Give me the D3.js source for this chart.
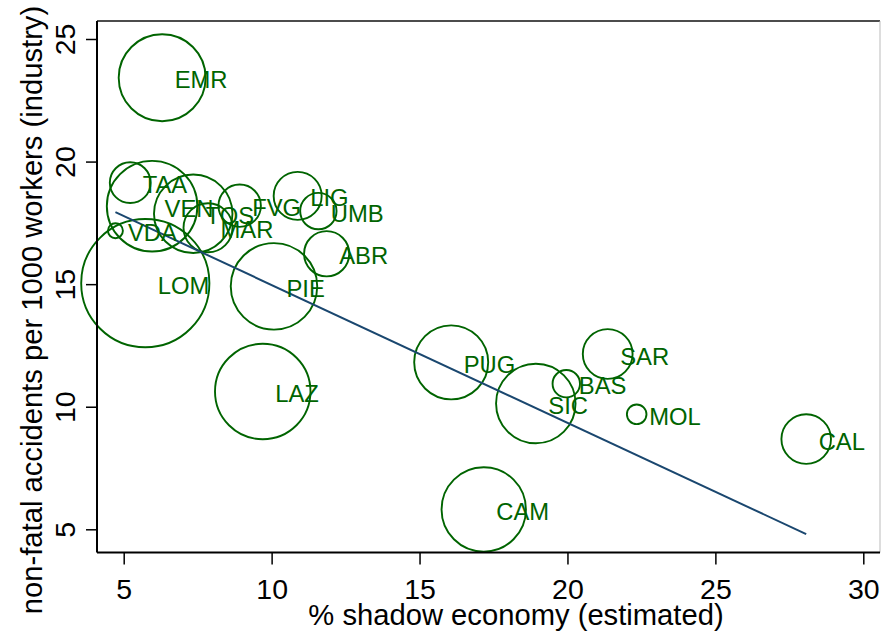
<!DOCTYPE html>
<html>
<head>
<meta charset="utf-8">
<script src="https://cdn.jsdelivr.net/npm/d3@7"></script>
<style>
  html, body { margin: 0; padding: 0; background: #ffffff; }
  svg { display: block; font-family: "Liberation Sans", Arial, Helvetica, sans-serif; }
</style>
</head>
<body>
<svg id="chart" width="881" height="633"></svg>
<script>
// ---- data ----
const regions = ["EMR","TAA","VEN","TOS","MAR","FVG","LIG","UMB","ABR","PIE","LOM","VDA","LAZ","PUG","SIC","BAS","SAR","MOL","CAL","CAM"];
const shadowEconomy = [6.30, 5.22, 5.96, 7.35, 7.85, 8.92, 10.88, 11.58, 11.86, 10.08, 5.73, 4.72, 9.70, 16.07, 18.93, 19.96, 21.36, 22.34, 28.07, 17.17];
const accidents = [23.42, 19.14, 18.18, 17.87, 17.30, 18.20, 18.60, 17.98, 16.24, 14.91, 15.04, 17.18, 10.62, 11.81, 10.13, 10.94, 12.15, 9.69, 8.68, 5.81];
const weights = [18.9, 4.16, 20.5, 15.4, 6.0, 4.5, 5.76, 3.31, 5.1, 18.7, 41.1, 0.56, 22.8, 13.7, 15.8, 1.88, 6.2, 0.96, 6.15, 17.8];
const xTicks = [5, 10, 15, 20, 25, 30];
const yTicks = [5, 10, 15, 20, 25];
const fitIntercept = 20.59;
const fitSlope = -0.5624;
const xTitle = "% shadow economy (estimated)";
const yTitle = "non-fatal accidents per 1000 workers (industry)";

// ---- layout ----
const plot = { left: 97, right: 880, top: 21, bottom: 552.5 };
const green = "#006400";
const navy = "#1a476f";

const svg = d3.select("#chart");

const x = d3.scaleLinear().domain([5, 30]).range([123.7, 863.3]);
const y = d3.scaleLinear().domain([5, 25]).range([529.3, 39]);
const r = d3.scaleSqrt().domain([0, d3.max(weights)]).range([0, 64.1]);

const data = regions.map((name, i) => ({
  name, sx: shadowEconomy[i], acc: accidents[i], w: weights[i]
}));

// plot region outline (top and right)
svg.append("line").attr("x1", plot.left).attr("x2", plot.right)
  .attr("y1", plot.top).attr("y2", plot.top)
  .attr("stroke", "#111").attr("stroke-width", 1.5);
svg.append("line").attr("x1", plot.right).attr("x2", plot.right)
  .attr("y1", plot.top).attr("y2", plot.bottom)
  .attr("stroke", "#bbbbbb").attr("stroke-width", 1);

// circles
svg.append("g").selectAll("circle").data(data).join("circle")
  .attr("cx", d => x(d.sx))
  .attr("cy", d => y(d.acc))
  .attr("r", d => r(d.w))
  .attr("fill", "none")
  .attr("stroke", green)
  .attr("stroke-width", 1.9);

// fit line
const xmin = d3.min(shadowEconomy), xmax = d3.max(shadowEconomy);
svg.append("line")
  .attr("x1", x(xmin)).attr("y1", y(fitIntercept + fitSlope * xmin))
  .attr("x2", x(xmax)).attr("y2", y(fitIntercept + fitSlope * xmax))
  .attr("stroke", navy).attr("stroke-width", 2);

// labels
svg.append("g").selectAll("text").data(data).join("text")
  .attr("x", d => x(d.sx) + 12.5)
  .attr("y", d => y(d.acc) + 10.5)
  .attr("fill", green)
  .attr("font-size", 23.8)
  .text(d => d.name);

// x axis
const gx = svg.append("g").attr("transform", `translate(0,${plot.bottom})`)
  .call(d3.axisBottom(x).tickValues(xTicks).tickSize(12).tickPadding(0).tickFormat(d3.format("d")));
gx.select(".domain").remove();
gx.selectAll(".tick line").attr("stroke", "#000").attr("stroke-width", 1.5);
gx.selectAll(".tick text").attr("font-size", 28.5).attr("fill", "#000")
  .attr("font-family", "Liberation Sans, Arial, sans-serif")
  .attr("dy", null).attr("y", 46);
svg.append("line").attr("x1", plot.left).attr("x2", plot.right)
  .attr("y1", plot.bottom).attr("y2", plot.bottom)
  .attr("stroke", "#000").attr("stroke-width", 2);

// y axis
const gy = svg.append("g").attr("transform", `translate(${plot.left},0)`)
  .call(d3.axisLeft(y).tickValues(yTicks).tickSize(11).tickPadding(0).tickFormat(d3.format("d")));
gy.select(".domain").remove();
gy.selectAll(".tick line").attr("stroke", "#000").attr("stroke-width", 1.5);
gy.selectAll(".tick text")
  .attr("font-size", 28.5).attr("fill", "#000")
  .attr("font-family", "Liberation Sans, Arial, sans-serif")
  .attr("x", null).attr("dy", null)
  .attr("text-anchor", "middle")
  .attr("transform", "translate(-22,0) rotate(-90)");
svg.append("line").attr("x1", plot.left).attr("x2", plot.left)
  .attr("y1", plot.top).attr("y2", plot.bottom)
  .attr("stroke", "#000").attr("stroke-width", 2);

// axis titles
svg.append("text")
  .attr("x", 516).attr("y", 625)
  .attr("text-anchor", "middle")
  .attr("font-size", 29.2).attr("fill", "#000")
  .text(xTitle);
svg.append("text")
  .attr("transform", "translate(41.5,310) rotate(-90)")
  .attr("text-anchor", "middle")
  .attr("font-size", 29.2).attr("fill", "#000")
  .text(yTitle);
</script>
</body>
</html>
